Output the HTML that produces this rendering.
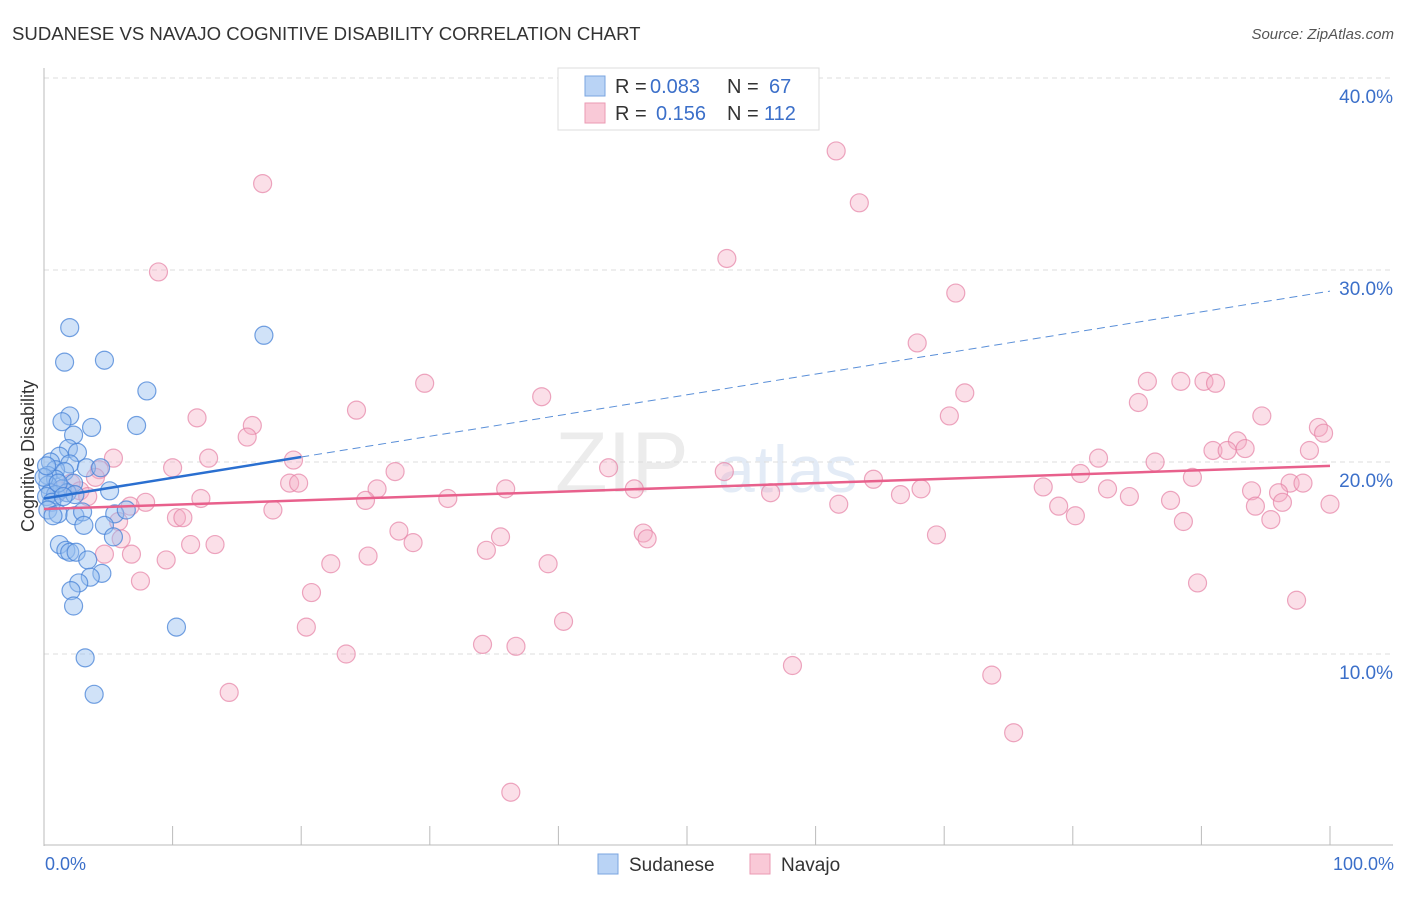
<!DOCTYPE html>
<html><head><meta charset="utf-8"><style>
body{margin:0;background:#fff;font-family:"Liberation Sans",sans-serif;}
svg text{font-family:"Liberation Sans",sans-serif;}
</style></head><body>
<svg width="1406" height="892" id="chart" xmlns="http://www.w3.org/2000/svg">
<text x="12" y="40" font-size="18.6" fill="#333">SUDANESE VS NAVAJO COGNITIVE DISABILITY CORRELATION CHART</text>
<text x="1394" y="39" font-size="15" fill="#555" text-anchor="end" font-style="italic">Source: ZipAtlas.com</text>
<text x="555" y="492" font-size="86" fill="#ececec" font-family="Liberation Serif">ZIP</text>
<text x="718" y="492" font-size="66" fill="#e3ebf6">atlas</text>
<g id="grid"></g>
<g id="axes"></g>
<g id="pts"></g>
<g id="trends"></g>
<text transform="translate(34,456) rotate(-90)" font-size="18" fill="#333" text-anchor="middle">Cognitive Disability</text>
<text x="45" y="870" font-size="18" fill="#3b6fc9">0.0%</text>
<text x="1394" y="870" font-size="18" fill="#3b6fc9" text-anchor="end">100.0%</text>
<g>
<rect x="558" y="68" width="261" height="62" fill="#fff" stroke="#ddd"/>
<rect x="585" y="76" width="20" height="20" fill="#b9d3f5" stroke="#7aa5e0"/>
<rect x="585" y="103" width="20" height="20" fill="#f9c9d7" stroke="#eb9ab3"/>
<text x="615" y="93" font-size="20" fill="#333">R =</text>
<text x="650" y="93" font-size="20" fill="#3b6fc9">0.083</text>
<text x="727" y="93" font-size="20" fill="#333">N =</text>
<text x="769" y="93" font-size="20" fill="#3b6fc9">67</text>
<text x="615" y="120" font-size="20" fill="#333">R =</text>
<text x="656" y="120" font-size="20" fill="#3b6fc9">0.156</text>
<text x="727" y="120" font-size="20" fill="#333">N =</text>
<text x="764" y="120" font-size="20" fill="#3b6fc9">112</text>
</g>
<g>
<rect x="598" y="854" width="20" height="20" fill="#b9d3f5" stroke="#7aa5e0"/>
<text x="629" y="871" font-size="19" fill="#333">Sudanese</text>
<rect x="750" y="854" width="20" height="20" fill="#f9c9d7" stroke="#eb9ab3"/>
<text x="781" y="871" font-size="19" fill="#333">Navajo</text>
</g>
</svg>
<script>
const yTicks=[10,20,30,40];
const yTickLabels=["10.0%","20.0%","30.0%","40.0%"];
const xTicks=[0,10,20,30,40,50,60,70,80,90,100];
const sudX=[2.0,1.6,4.7,8.0,2.0,1.4,7.2,3.7,2.3,1.9,2.6,1.2,0.5,2.0,3.3,0.9,1.6,0.3,0.9,2.3,0.3,1.4,0.5,0.9,0.2,1.8,2.4,5.1,0.6,0.3,1.1,2.4,3.0,5.5,6.4,3.1,4.7,5.4,1.2,1.7,2.0,2.5,3.4,4.5,3.6,2.7,2.1,2.3,10.3,3.2,3.9,17.1,0,0.2,1.1,1.5,0.7,4.4];
const sudY=[27.0,25.2,25.3,23.7,22.4,22.1,21.9,21.8,21.4,20.7,20.5,20.3,20.0,19.9,19.7,19.6,19.5,19.3,19.1,18.9,18.8,18.6,18.4,18.3,18.2,18.4,18.3,18.5,17.9,17.5,17.3,17.2,17.4,17.3,17.5,16.7,16.7,16.1,15.7,15.4,15.3,15.3,14.9,14.2,14.0,13.7,13.3,12.5,11.4,9.8,7.9,26.6,19.2,19.8,18.9,18.2,17.2,19.7];
const navX=[61.6,17.0,63.4,53.1,8.9,70.9,67.9,29.6,85.8,88.4,90.2,91.1,71.6,38.7,85.1,24.3,70.4,11.9,16.2,94.7,99.1,99.5,15.8,92.8,90.9,92.0,93.4,98.4,5.4,12.8,19.4,82.0,86.4,10.0,27.3,43.9,52.9,80.6,89.3,4.3,2.1,4.0,64.5,96.9,97.9,77.7,25.9,19.1,19.8,45.9,35.9,68.2,82.7,93.9,96.0,84.4,31.4,25.0,12.2,56.5,66.6,7.9,61.8,78.9,87.6,100,94.2,96.3,80.2,17.8,5.8,10.3,10.8,88.6,95.4,6.0,27.6,28.7,46.6,46.9,69.4,35.5,11.4,13.3,34.4,4.7,6.8,25.2,9.5,22.3,39.2,7.5,89.7,20.8,97.4,40.4,20.4,34.1,36.7,23.5,58.2,73.7,14.4,75.4,36.3,2.8,1.2,3.4,6.7];
const navY=[36.2,34.5,33.5,30.6,29.9,28.8,26.2,24.1,24.2,24.2,24.2,24.1,23.6,23.4,23.1,22.7,22.4,22.3,21.9,22.4,21.8,21.5,21.3,21.1,20.6,20.6,20.7,20.6,20.2,20.2,20.1,20.2,20.0,19.7,19.5,19.7,19.5,19.4,19.2,19.6,18.9,19.2,19.1,18.9,18.9,18.7,18.6,18.9,18.9,18.6,18.6,18.6,18.6,18.5,18.4,18.2,18.1,18.0,18.1,18.4,18.3,17.9,17.8,17.7,18.0,17.8,17.7,17.9,17.2,17.5,16.9,17.1,17.1,16.9,17.0,16.0,16.4,15.8,16.3,16.0,16.2,16.1,15.7,15.7,15.4,15.2,15.2,15.1,14.9,14.7,14.7,13.8,13.7,13.2,12.8,11.7,11.4,10.5,10.4,10.0,9.4,8.9,8.0,5.9,2.8,18.5,18.5,18.2,17.7];
const sudTrend=[18.1,0.108]; // intercept, slope
const navTrend=[17.55,0.0225];
const sudSolidEnd=20;

const NS="http://www.w3.org/2000/svg";
const X=v=>44+v*12.86, Y=v=>846-v*19.2;
function mk(t,a,p){const e=document.createElementNS(NS,t);for(const k in a)e.setAttribute(k,a[k]);p.appendChild(e);return e;}
const grid=document.getElementById('grid'),axes=document.getElementById('axes'),pts=document.getElementById('pts'),tr=document.getElementById('trends');
yTicks.forEach((t,i)=>{
 const l=mk('line',{x1:44,x2:1393,y1:Y(t),y2:Y(t),stroke:'#dcdcdc','stroke-dasharray':'5,4'},grid);
 
 
 const tx=mk('text',{x:1393,y:Y(t)+25,'font-size':19,fill:'#3b6fc9','text-anchor':'end'},grid);
 tx.textContent=yTickLabels[i];
 
 
});
let a=mk('line',{x1:44,x2:44,y1:68,y2:846,stroke:'#bbb'},axes);


a=mk('line',{x1:44,x2:1393,y1:845,y2:845,stroke:'#bbb'},axes);


xTicks.forEach(t=>{
 const l=mk('line',{x1:X(t),x2:X(t),y1:826,y2:845,stroke:'#bbb'},axes);
 
 
});
navX.forEach((v,i)=>{
 const c=mk('circle',{cx:X(v),cy:Y(navY[i]),r:9,fill:'rgba(245,170,195,0.38)',stroke:'rgba(230,130,165,0.7)','stroke-width':1.2},pts);
 
 
});
sudX.forEach((v,i)=>{
 const c=mk('circle',{cx:X(v),cy:Y(sudY[i]),r:9,fill:'rgba(150,190,240,0.45)',stroke:'rgba(70,130,215,0.75)','stroke-width':1.2},pts);
 
 
});
const f=(t,x)=>t[0]+t[1]*x;
let l=mk('line',{x1:X(0),y1:Y(f(navTrend,0)),x2:X(100),y2:Y(f(navTrend,100)),stroke:'#e8608c','stroke-width':2.5},tr);


l=mk('line',{x1:X(0),y1:Y(f(sudTrend,0)),x2:X(sudSolidEnd),y2:Y(f(sudTrend,sudSolidEnd)),stroke:'#2a6fd0','stroke-width':2.5},tr);


l=mk('line',{x1:X(sudSolidEnd),y1:Y(f(sudTrend,sudSolidEnd)),x2:X(100),y2:Y(f(sudTrend,100)),stroke:'#5a8fd8','stroke-width':1,'stroke-dasharray':'8,5'},tr);


</script>
</body></html>
